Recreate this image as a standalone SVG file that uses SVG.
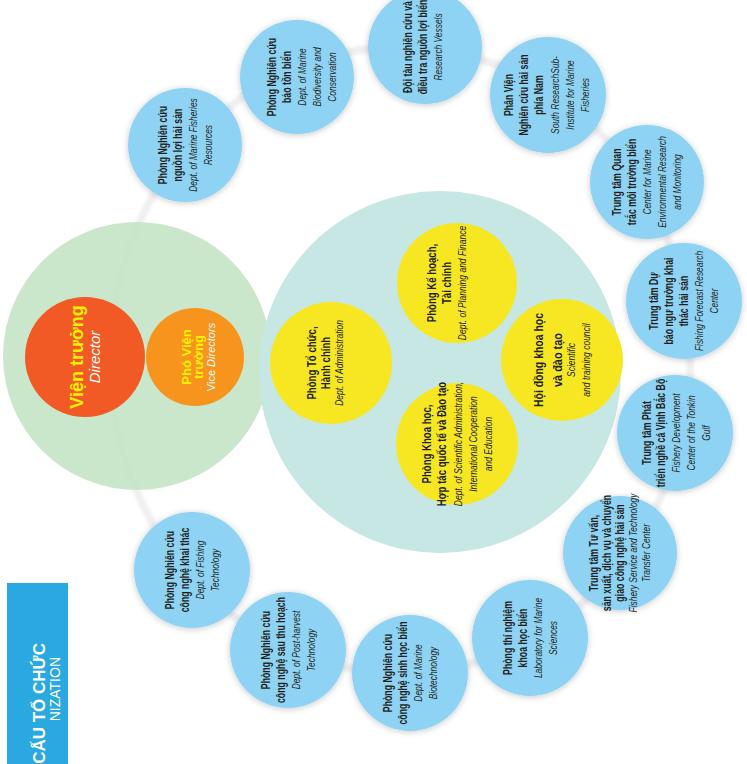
<svg xmlns="http://www.w3.org/2000/svg" width="747" height="764" viewBox="0 0 747 764">
<defs>
<style>
.b{font-family:"Liberation Sans",sans-serif;font-weight:bold;fill:#231f20;text-anchor:middle;font-size:12px}
.i{font-family:"Liberation Sans",sans-serif;font-style:italic;fill:#231f20;text-anchor:middle;font-size:11.5px}
.yb{font-size:13px}
.yi{font-size:11.5px}
.blue{fill:#8fd3f4}
.yel{fill:#f7e723}
.h{font-family:"Liberation Sans",sans-serif;text-anchor:middle}
</style>
<filter id="sh" x="-30%" y="-30%" width="160%" height="160%">
<feDropShadow dx="0" dy="1" stdDeviation="3" flood-color="#000" flood-opacity="0.22"/>
</filter>
<filter id="lsh" x="-10%" y="-10%" width="120%" height="120%">
<feDropShadow dx="0" dy="0" stdDeviation="2" flood-color="#000" flood-opacity="0.15"/>
</filter>
</defs>
<rect width="747" height="764" fill="#fff"/>

<g id="connectors">
<ellipse cx="400" cy="360" rx="290" ry="313" fill="none" stroke="#f0f0f0" stroke-width="4" filter="url(#lsh)"/>
</g>

<g id="leadership">
<circle cx="137" cy="356" r="134" fill="#c2e3c2" fill-opacity="0.85"/>
</g>
<g id="departments">
<circle cx="440" cy="372" r="181" fill="#c6e7e4"/>
</g>

<g id="director" transform="translate(85,357)">
<circle r="60" fill="#f15a24"/>
<g transform="rotate(-90)">
<text class="h" y="-2" font-size="18" font-weight="bold" fill="#fff200">Viện trưởng</text>
<text class="h" y="15" font-size="15" font-style="italic" fill="#fff">Director</text>
</g>
</g>

<g id="vice-directors" transform="translate(195,357)">
<circle r="49" fill="#f7941d"/>
<g transform="rotate(-90)">
<text class="h" y="-4" font-size="13" font-weight="bold" fill="#fff200">Phó Viện</text>
<text class="h" y="8" font-size="13" font-weight="bold" fill="#fff200">trường</text>
<text class="h" y="20" font-size="11" fill="#fff"><tspan font-style="normal">Vice</tspan> <tspan font-style="italic">Directors</tspan></text>
</g>
</g>

<g id="dept-admin" transform="translate(331,363)">
<circle r="61" class="yel"/>
<g transform="rotate(-90) scale(0.74 1)">
<text class="b yb" y="-15">Phòng Tổ chức,</text>
<text class="b yb" y="-1">Hành chính</text>
<text class="i yi" y="12">Dept. of Administration</text>
</g>
</g>

<g id="dept-planning" transform="translate(457,283)">
<circle r="60" class="yel"/>
<g transform="rotate(-90) scale(0.74 1)">
<text class="b yb" y="-21">Phòng Kế hoạch,</text>
<text class="b yb" y="-6">Tài chính</text>
<text class="i yi" y="9">Dept. of Planning and Finance</text>
</g>
</g>

<g id="dept-science" transform="translate(457,444)">
<circle r="61" class="yel"/>
<g transform="rotate(-90) scale(0.74 1)">
<text class="b yb" y="-26">Phòng Khoa học,</text>
<text class="b yb" y="-11">Hợp tác quốc tế và Đào tạo</text>
<text class="i yi" y="5">Dept. of Scientific Administration,</text>
<text class="i yi" y="20">International Cooperation</text>
<text class="i yi" y="35">and Education</text>
</g>
</g>

<g id="council" transform="translate(562,360)">
<circle r="61" class="yel"/>
<g transform="rotate(-90)">
<text class="b" y="-19" font-size="16" textLength="94" lengthAdjust="spacingAndGlyphs">Hội đồng khoa học</text>
<text class="b" y="0" font-size="16" textLength="54" lengthAdjust="spacingAndGlyphs">và đào tạo</text>
</g>
<g transform="rotate(-90) scale(0.74 1)">
<text class="i yi" y="13">Scientific</text>
<text class="i yi" y="28">and training council</text>
</g>
</g>

<g id="marine-resources" transform="translate(185,145)">
<circle r="57" class="blue" filter="url(#sh)"/>
<g transform="rotate(-90) scale(0.73 1)">
<text class="b" y="-18">Phòng Nghiên cứu</text>
<text class="b" y="-3">nguồn lợi hải sản</text>
<text class="i" y="12">Dept. of Marine Fisheries</text>
<text class="i" y="27">Resources</text>
</g>
</g>

<g id="biodiversity" transform="translate(297,77)">
<circle r="57" class="blue" filter="url(#sh)"/>
<g transform="rotate(-90) scale(0.73 1)">
<text class="b" y="-21">Phòng Nghiên cứu</text>
<text class="b" y="-6">bảo tồn biển</text>
<text class="i" y="9">Dept. of Marine</text>
<text class="i" y="24">Biodiversity and</text>
<text class="i" y="39">Conservation</text>
</g>
</g>

<g id="research-vessels" transform="translate(425,47)">
<circle r="57" class="blue" filter="url(#sh)"/>
<g transform="rotate(-90) scale(0.73 1)">
<text class="b" y="-13">Đội tàu nghiên cứu và</text>
<text class="b" y="2">điều tra nguồn lợi biển</text>
<text class="i" y="17">Research Vessels</text>
</g>
</g>

<g id="south-institute" transform="translate(548,95)">
<circle r="58" class="blue" filter="url(#sh)"/>
<g transform="rotate(-90) scale(0.73 1)">
<text class="b" y="-35">Phân Viện</text>
<text class="b" y="-20">Nghiên cứu hải sản</text>
<text class="b" y="-5">phía Nam</text>
<text class="i" y="11">South ResearchSub-</text>
<text class="i" y="26">Institute for Marine</text>
<text class="i" y="41">Fisheries</text>
</g>
</g>

<g id="environment-center" transform="translate(647,182)">
<circle r="57" class="blue" filter="url(#sh)"/>
<g transform="rotate(-90) scale(0.73 1)">
<text class="b" y="-26">Trung tâm Quan</text>
<text class="b" y="-11">trắc môi trường biển</text>
<text class="i" y="4">Center for Marine</text>
<text class="i" y="19">Environmental Research</text>
<text class="i" y="34">and Monitoring</text>
</g>
</g>

<g id="forecast-center" transform="translate(684,301)">
<circle r="58" class="blue" filter="url(#sh)"/>
<g transform="rotate(-90) scale(0.73 1)">
<text class="b" y="-26">Trung tâm Dự</text>
<text class="b" y="-11">báo ngư trường khai</text>
<text class="b" y="4">thác hải sản</text>
<text class="i" y="19">Fishing Forecast Research</text>
<text class="i" y="34">Center</text>
</g>
</g>

<g id="tonkin-center" transform="translate(675,433)">
<circle r="58" class="blue" filter="url(#sh)"/>
<g transform="rotate(-90) scale(0.73 1)">
<text class="b" y="-24" font-size="10.5">Trung tâm Phát</text>
<text class="b" y="-10" font-size="10.5">triển nghề cá Vịnh Bắc Bộ</text>
<text class="i" y="5">Fishery Development</text>
<text class="i" y="20">Center of the Tonkin</text>
<text class="i" y="35">Gulf</text>
</g>
</g>

<g id="service-center" transform="translate(620,553)">
<circle r="57" class="blue" filter="url(#sh)"/>
<g transform="rotate(-90) scale(0.73 1)">
<text class="b" y="-22" font-size="10">Trung tâm Tư vấn,</text>
<text class="b" y="-9" font-size="10">sản xuất, dịch vụ và chuyển</text>
<text class="b" y="4" font-size="10">giao công nghệ hải sản</text>
<text class="i" y="17" font-size="10.5">Fishery Service and Technology</text>
<text class="i" y="30" font-size="10.5">Transfer Center</text>
</g>
</g>

<g id="laboratory" transform="translate(530,638)">
<circle r="58" class="blue" filter="url(#sh)"/>
<g transform="rotate(-90) scale(0.73 1)">
<text class="b" y="-18">Phòng thí nghiệm</text>
<text class="b" y="-3">khoa học biển</text>
<text class="i" y="12">Laboratory for Marine</text>
<text class="i" y="27">Sciences</text>
</g>
</g>

<g id="biotechnology" transform="translate(410,673)">
<circle r="58" class="blue" filter="url(#sh)"/>
<g transform="rotate(-90) scale(0.73 1)">
<text class="b" y="-18">Phòng Nghiên cứu</text>
<text class="b" y="-3">công nghệ sinh học biển</text>
<text class="i" y="12">Dept. of Marine</text>
<text class="i" y="27">Biotechnology</text>
</g>
</g>

<g id="post-harvest" transform="translate(288,650)">
<circle r="58" class="blue" filter="url(#sh)"/>
<g transform="rotate(-90) scale(0.73 1)">
<text class="b" y="-18">Phòng Nghiên cứu</text>
<text class="b" y="-3">công nghệ sau thu hoạch</text>
<text class="i" y="12">Dept. of Post-harvest</text>
<text class="i" y="27">Technology</text>
</g>
</g>

<g id="fishing-technology" transform="translate(192,570)">
<circle r="58" class="blue" filter="url(#sh)"/>
<g transform="rotate(-90) scale(0.73 1)">
<text class="b" y="-18">Phòng Nghiên cứu</text>
<text class="b" y="-3">công nghệ khai thác</text>
<text class="i" y="12">Dept. of Fishing</text>
<text class="i" y="27">Technology</text>
</g>
</g>

<g id="title">
<rect x="7" y="583" width="61" height="181" fill="#2aa8e0"/>
<text transform="translate(45,643) rotate(-90)" font-family="Liberation Sans, sans-serif" font-weight="bold" font-size="17" fill="#fff" text-anchor="end">CẤU TỔ CHỨC</text>
<text transform="translate(60,657) rotate(-90)" font-family="Liberation Sans, sans-serif" font-size="14" fill="#fff" text-anchor="end">NIZATION</text>
</g>
</svg>
